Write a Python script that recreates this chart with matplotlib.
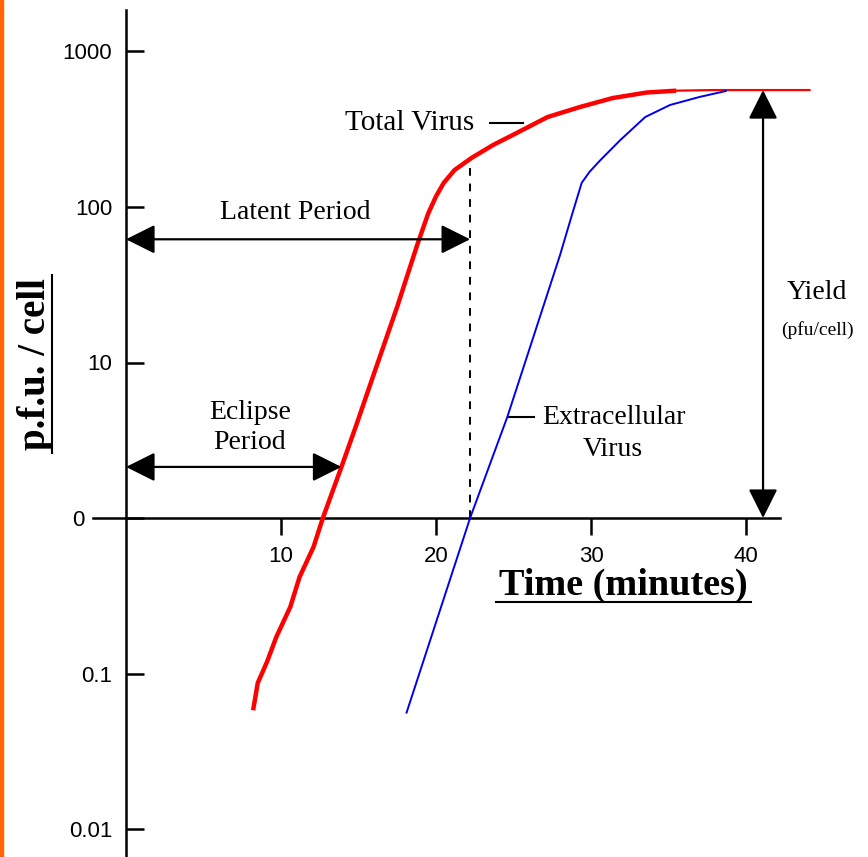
import numpy as np
import matplotlib
matplotlib.use("Agg")
import matplotlib.pyplot as plt
from matplotlib.patches import Rectangle
from matplotlib.transforms import ScaledTranslation

# one-step growth curve (time in minutes, pfu per cell)
total_t = [8.2, 8.5, 9.1, 9.7, 10.6, 11.2, 12.1, 12.7, 13.9, 14.9, 15.9, 17.5,
           18.8, 19.5, 20.0, 20.5, 21.2, 22.3, 23.7, 25.2, 27.2, 29.3, 31.4,
           33.6, 35.5, 37.9, 44.1]
total_v = [0.058, 0.087, 0.119, 0.172, 0.268, 0.418, 0.652, 1.0, 2.13, 4.07,
           7.94, 22.9, 57.5, 91, 117, 143, 173, 207, 251, 299, 379, 440, 502,
           545, 560, 565, 565]

extra_t = [18.1, 22.2, 24.6, 26.7, 28.0, 28.8, 29.4, 29.9, 30.6, 31.9, 33.5,
           35.1, 37.0, 38.7]
extra_v = [0.056, 1.0, 4.46, 19.6, 49, 91, 143, 168, 200, 270, 379,
           453, 510, 557]

y_ticks = [1000, 100, 10, 1, 0.1, 0.01]
y_tick_labels = ["1000", "100", "10", "0", "0.1", "0.01"]
x_ticks = [10, 20, 30, 40]

latent_end = 22.2
eclipse_end = 13.9
yield_t = 41.1
plateau = 565

serif = "Liberation Serif"

fig = plt.figure(figsize=(8.68, 8.57), dpi=100)
ax = fig.add_axes([0, 0, 1, 1])
ax.set_yscale("log")
ax.set_xlim(-126 / 15.5, (868 - 126) / 15.5)
ax.set_ylim(10 ** ((518 - 857) / 155.5), 10 ** (518 / 155.5))
ax.patch.set_alpha(0)

# axes drawn through the origin like the original sketch
for side in ["top", "right"]:
    ax.spines[side].set_visible(False)
ax.spines["left"].set_position(("data", 0))
ax.spines["bottom"].set_position(("data", 1))
ax.spines["left"].set_bounds(10 ** ((518 - 857) / 155.5), 10 ** ((518 - 10) / 155.5))
ax.spines["bottom"].set_bounds(-2.13, 42.2)
for side in ["left", "bottom"]:
    ax.spines[side].set_linewidth(1.8)

ax.set_yticks(y_ticks)
ax.set_yticklabels(y_tick_labels)
ax.yaxis.set_minor_locator(matplotlib.ticker.NullLocator())
ax.set_xticks(x_ticks)
ax.set_xticklabels([str(t) for t in x_ticks])
ax.tick_params(axis="y", direction="in", length=13, width=1.8, pad=10,
               labelsize=16)
ax.tick_params(axis="x", direction="out", length=12, width=1.8, pad=8,
               labelsize=16)
for lab in ax.get_xticklabels() + ax.get_yticklabels():
    lab.set_family("Liberation Sans")

# the "0" label sits left of where the x axis pokes out
zero_lab = ax.get_yticklabels()[3]
zero_lab.set_transform(zero_lab.get_transform() +
                       ScaledTranslation(-0.28, 0, fig.dpi_scale_trans))

# curves
ax.plot(total_t[:-2], total_v[:-2], color="#ff0000", lw=3.2,
        solid_capstyle="butt", zorder=3)
ax.plot(total_t[-3:], total_v[-3:], color="#ff0000", lw=1.6, zorder=3)
ax.plot(extra_t, extra_v, color="#0000ee", lw=1.4, zorder=3)

# end of latent period
ax.plot([latent_end, latent_end], [1, 200], color="black", lw=1.4,
        ls=(0, (4, 4)), zorder=2)

arrow = dict(arrowstyle="<|-|>,head_length=0.9,head_width=0.45",
             mutation_scale=20, color="black", lw=1.6, shrinkA=0, shrinkB=0)
ax.annotate("", xy=(latent_end, 62), xytext=(0, 62), arrowprops=arrow)
ax.annotate("", xy=(eclipse_end, 2.13), xytext=(0, 2.13), arrowprops=arrow)
ax.annotate("", xy=(yield_t, plateau), xytext=(yield_t, 1), arrowprops=arrow)

ax.text(10.9, 91.5, "Latent Period", family=serif, fontsize=20,
        ha="center", va="center")
ax.text(8.0, 4.8, "Eclipse", family=serif, fontsize=20, ha="center", va="center")
ax.text(8.0, 3.04, "Period", family=serif, fontsize=20, ha="center", va="center")

ax.text(18.3, 347, "Total Virus", family=serif, fontsize=21,
        ha="center", va="center")
ax.plot([23.5, 25.6], [347, 347], color="black", lw=1.5)

ax.text(31.5, 4.46, "Extracellular", family=serif, fontsize=20,
        ha="center", va="center")
ax.text(31.4, 2.74, "Virus", family=serif, fontsize=20, ha="center", va="center")
ax.plot([24.65, 26.3], [4.46, 4.46], color="black", lw=1.5)

ax.text(44.6, 28, "Yield", family=serif, fontsize=20, ha="center", va="center")
ax.text(44.6, 16.2, "(pfu/cell)", family=serif, fontsize=14,
        ha="center", va="center")

# axis titles, bold and underlined
ax.text(32.1, 0.371, "Time (minutes)", family=serif, fontsize=27.5,
        fontweight="bold", ha="center", va="center")
ax.plot([23.9, 40.3], [0.288, 0.288], color="black", lw=1.5)

ax.text(-5.85, 9.78, "p.f.u. / cell", family=serif, fontsize=28,
        fontweight="bold", ha="center", va="center", rotation=90)
ax.plot([-4.75, -4.75], [2.62, 36.5], color="black", lw=1.5)

# orange strip on the left edge
fig.patches.append(Rectangle((0, 0), 3 / 868, 1, transform=fig.transFigure,
                             color="#ff6600", zorder=0))

fig.savefig("out.png", dpi=100)
